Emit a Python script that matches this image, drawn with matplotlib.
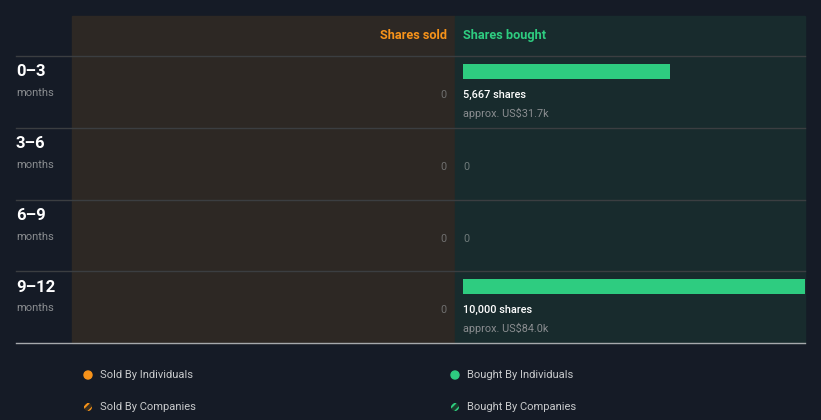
import matplotlib
matplotlib.use("Agg")
import matplotlib.pyplot as plt
from matplotlib.patches import Rectangle, Circle

plt.rcParams['font.family'] = ['Roboto', 'DejaVu Sans']
plt.rcParams['hatch.linewidth'] = 1.5

# data
periods = ["0\u20133", "3\u20136", "6\u20139", "9\u201312"]
sold_shares = [0, 0, 0, 0]
bought_shares = [5667, 0, 0, 10000]
bought_value = ["US$31.7k", None, None, "US$84.0k"]
legend_labels = ["Sold By Individuals", "Bought By Individuals",
                 "Sold By Companies", "Bought By Companies"]

BG = "#151b26"
SOLD_BG = "#2d2824"
BOUGHT_BG = "#182b2d"
ORANGE = "#f7931a"
GREEN = "#2ecc80"
GRAY = "#8a8d90"
LINE = "#3b3e41"

W, H = 821, 420
fig = plt.figure(figsize=(W / 100, H / 100), dpi=100)
fig.patch.set_facecolor(BG)

# layout axes in pixel units
lay = fig.add_axes([0, 0, 1, 1])
lay.set_xlim(0, W)
lay.set_ylim(H, 0)
lay.axis("off")

top, head, bottom = 16, 56, 343
split, left, right = 455, 72, 805
row_h = (bottom - head) / len(periods)

lay.add_patch(Rectangle((left, top), split - left, bottom - top, color=SOLD_BG, zorder=0))
lay.add_patch(Rectangle((split, top), right - split, bottom - top, color=BOUGHT_BG, zorder=0))

lay.text(447, 35.5, "Shares sold", color=ORANGE, fontsize=9.2, fontweight="bold",
         ha="right", va="center")
lay.text(463, 35.5, "Shares bought", color=GREEN, fontsize=9.2, fontweight="bold",
         ha="left", va="center")

for i, p in enumerate(periods):
    y0 = head + i * row_h
    lay.plot([16, right], [y0, y0], color=LINE, lw=1, zorder=1)
    lay.text(16, y0 + 16, p, color="white", fontsize=12, fontweight="bold",
             ha="left", va="center")
    lay.text(16, y0 + 37, "months", color=GRAY, fontsize=8, ha="left", va="center")
lay.plot([16, right], [bottom, bottom], color="#a6a9ac", lw=1, zorder=1)

# sold axes
ax_s = fig.add_axes([left / W, 1 - bottom / H, (split - left) / W, (bottom - head) / H])
ax_s.set_xlim(-9362, 219 * (split - 447) / 8)
ax_s.set_ylim(len(periods), 0)
ax_s.axis("off")
ax_s.patch.set_alpha(0)

# bought axes
ax_b = fig.add_axes([split / W, 1 - bottom / H, (right - split) / W, (bottom - head) / H])
ax_b.set_xlim(-219, 9362)
ax_b.set_ylim(len(periods), 0)
ax_b.axis("off")
ax_b.patch.set_alpha(0)

bar_c = 15.5 / row_h
bar_h = 15 / row_h
ax_s.barh([i + bar_c for i in range(len(periods))], [-v for v in sold_shares],
          height=bar_h, color=ORANGE)
ax_b.barh([i + bar_c for i in range(len(periods))], bought_shares,
          height=bar_h, color=GREEN)

for i in range(len(periods)):
    ax_s.text(0, i + 39 / row_h, f"{sold_shares[i]:,}" if sold_shares[i] else "0",
              color="#6f6f6f", fontsize=7.8, ha="right", va="center")
    if bought_shares[i]:
        ax_b.text(0, i + 39 / row_h, f"{bought_shares[i]:,} shares", color="white",
                  fontsize=7.8, fontweight="medium", ha="left", va="center")
        ax_b.text(0, i + 57 / row_h, f"approx. {bought_value[i]}", color=GRAY,
                  fontsize=7.8, ha="left", va="center")
    else:
        ax_b.text(0, i + 39 / row_h, "0", color="#6f7a7a", fontsize=7.8,
                  ha="left", va="center")

# legend
leg_pos = [(88, 375), (455, 375), (88, 407), (455, 407)]
leg_cols = [ORANGE, GREEN, ORANGE, GREEN]
for k, (lab, (x, y), c) in enumerate(zip(legend_labels, leg_pos, leg_cols)):
    if k < 2:
        lay.add_patch(Circle((x, y), 4, color=c))
    else:
        lay.add_patch(Circle((x, y), 4, facecolor="#3a2f1f" if c == ORANGE else "#1a3a2c",
                             edgecolor=c, hatch="////", lw=0))
    lay.text(x + 12, y + 0.5, lab, color="#c8cacc", fontsize=8, ha="left", va="center")

fig.savefig("out.png", dpi=100, facecolor=BG)
